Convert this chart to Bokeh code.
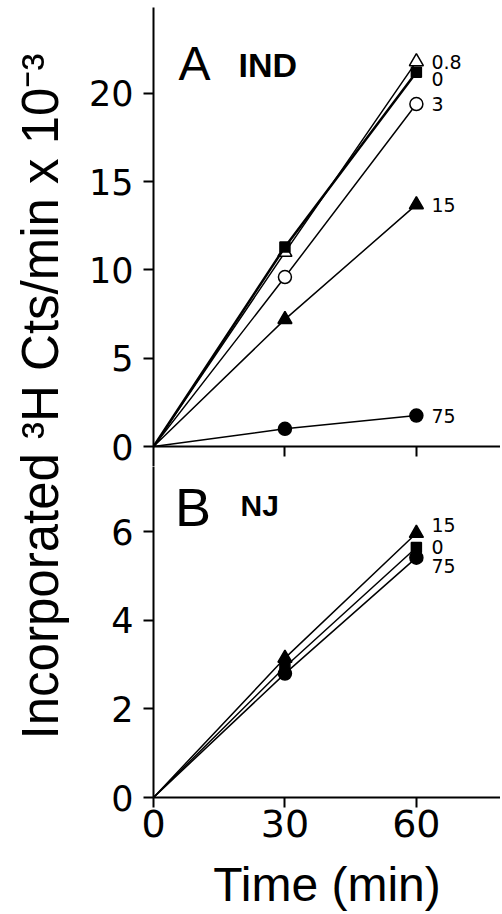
import math
from bokeh.plotting import figure
from bokeh.layouts import row, column
from bokeh.models import Range1d, LinearAxis, FixedTicker, Label, ColumnDataSource
from bokeh.core.properties import value
from bokeh.embed import file_html
from bokeh.resources import INLINE

# ---------------- data ----------------
time = [0, 30, 60]
x_ticks = [0, 30, 60]

# Panel A (IND) - concentration labels and values (x 10^-3 cts/min)
a_names = ["0.8", "0", "3", "15", "75"]
a_0_8 = [0, 11.0, 21.8]
a_0 = [0, 11.3, 21.2]
a_3 = [0, 9.6, 19.4]
a_15 = [0, 7.2, 13.7]
a_75 = [0, 1.0, 1.75]
a_yticks = [0, 5, 10, 15, 20]

# Panel B (NJ)
b_names = ["15", "0", "75"]
b_15 = [0, 3.15, 5.97]
b_0 = [0, 2.95, 5.65]
b_75 = [0, 2.8, 5.42]
b_yticks = [0, 2, 4, 6]

# ---------------- styles ----------------
BLACK = "black"
TICK_FONT = "DejaVu Sans"
LAB_FONT = "Liberation Sans"

a_styles = [  # marker, fill, line width, label y-offset(px)
    ("triangle", "white", 1.5, 0),
    ("square", BLACK, 2.5, 7),
    ("circle", "white", 1.5, 0),
    ("triangle", BLACK, 1.5, 0),
    ("circle", BLACK, 1.5, 0),
]
a_sizes = [14, 10, 13, 14, 13]
b_styles = [
    ("triangle", BLACK, 1.5, -8),
    ("square", BLACK, 1.5, 0),
    ("circle", BLACK, 1.5, 8),
]
b_sizes = [14, 10, 13]

PANEL_W = 420
X_END = 79.2


def style_axis(ax, font_size):
    ax.axis_line_width = 2
    ax.axis_line_color = BLACK
    ax.major_tick_line_width = 2
    ax.major_tick_line_color = BLACK
    ax.major_tick_out = 10
    ax.major_tick_in = 0
    ax.minor_tick_out = 0
    ax.minor_tick_in = 0
    ax.major_label_text_font = TICK_FONT
    ax.major_label_text_font_size = font_size
    ax.major_label_text_color = BLACK


def base_fig(height, y_range, top, bottom):
    f = figure(width=PANEL_W, height=height, x_range=Range1d(0, X_END), y_range=y_range,
               output_backend="svg", toolbar_location=None,
               x_axis_location=None, y_axis_location=None,
               min_border_left=73, min_border_right=0,
               min_border_top=top, min_border_bottom=bottom)
    f.outline_line_color = None
    f.background_fill_color = "white"
    f.border_fill_color = "white"
    f.grid.visible = False
    return f


def draw_series(f, series, names, styles, sizes):
    for ys, (mk, fill, lw, _), sz in zip(series, styles, sizes):
        f.line(time, ys, line_color=BLACK, line_width=lw)
        f.scatter(time[1:], ys[1:], marker=mk, size=sz, fill_color=fill,
                  line_color=BLACK, line_width=1.5)
    src = ColumnDataSource(dict(
        x=[time[-1]] * len(series),
        y=[s[-1] for s in series],
        text=names,
        yoff=[st[3] for st in styles],
    ))
    f.text(x="x", y="y", text="text", source=src, x_offset=15, y_offset="yoff",
           text_font=value(TICK_FONT), text_font_size=value("19px"),
           text_baseline="middle", text_align="left", text_color=BLACK)


# ---------------- Panel A ----------------
figA = base_fig(466, Range1d(-1.133, 24.87), 7, 0)
axA = LinearAxis(ticker=FixedTicker(ticks=a_yticks))
style_axis(axA, "35px")
axA.major_label_standoff = 10
figA.add_layout(axA, "left")
axAb = LinearAxis(ticker=FixedTicker(ticks=x_ticks[1:]), fixed_location=0)
style_axis(axAb, "38px")
axAb.major_label_text_color = None
figA.add_layout(axAb, "below")
draw_series(figA, [a_0_8, a_0, a_3, a_15, a_75], a_names, a_styles, a_sizes)
figA.add_layout(Label(x=5.7, y=21.7, text="A", text_font=LAB_FONT, text_font_size="48px",
                      text_baseline="alphabetic", text_color=BLACK))
figA.add_layout(Label(x=19.4, y=21.6, text="IND", text_font=LAB_FONT, text_font_size="34px",
                      text_font_style="bold", text_baseline="alphabetic", text_color=BLACK))

# ---------------- Panel B ----------------
figB = base_fig(448, Range1d(0, 7.48), 0, 117)
axB = LinearAxis(ticker=FixedTicker(ticks=b_yticks))
style_axis(axB, "35px")
axB.major_label_standoff = 10
figB.add_layout(axB, "left")
axBb = LinearAxis(ticker=FixedTicker(ticks=x_ticks))
style_axis(axBb, "38px")
axBb.major_label_standoff = 2
axBb.axis_label = "Time (min)"
axBb.axis_label_text_font = LAB_FONT
axBb.axis_label_text_font_size = "48px"
axBb.axis_label_text_font_style = "normal"
axBb.axis_label_text_color = BLACK
axBb.axis_label_standoff = 18
figB.add_layout(axBb, "below")
draw_series(figB, [b_15, b_0, b_75], b_names, b_styles, b_sizes)
figB.add_layout(Label(x=4.9, y=6.576, text="B", text_font=LAB_FONT, text_font_size="54px",
                      text_baseline="alphabetic", text_color=BLACK))
figB.add_layout(Label(x=19.85, y=6.6, text="NJ", text_font=LAB_FONT, text_font_size="30px",
                      text_font_style="bold", text_baseline="alphabetic", text_color=BLACK))

# ---------------- Y label column ----------------
labfig = figure(width=80, height=914, x_range=Range1d(0, 1), y_range=Range1d(0, 1),
                output_backend="svg", toolbar_location=None,
                x_axis_location=None, y_axis_location=None, min_border=0)
labfig.outline_line_color = None
labfig.grid.visible = False
labfig.add_layout(Label(x=40, y=518, x_units="screen", y_units="screen",
                        text="Incorporated \u00b3H Cts/min x 10\u207b\u00b3",
                        angle=math.pi / 2, text_align="center", text_baseline="middle",
                        text_font=LAB_FONT, text_font_size="51px", text_color=BLACK))

layout = row(labfig, column(figA, figB))
open("out.html", "w").write(file_html(layout, INLINE))
